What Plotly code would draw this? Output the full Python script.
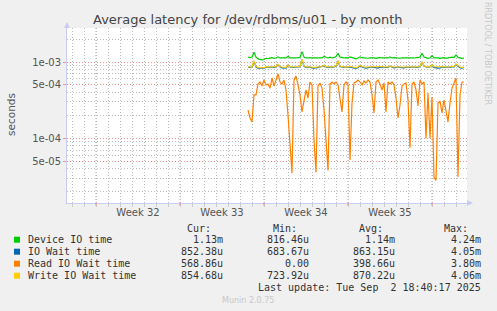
import datetime as dt
import plotly.graph_objects as go

# ---------------- data (seconds) ----------------
start_time = dt.datetime(2025, 8, 15, 16, 0)
step_hours = 4

device_io = [1.15, 1.15, 1.16, 1.34, 1.16, 1.10, 1.08, 1.07, 1.08, 1.12, 1.11, 1.13, 1.14, 1.12, 1.13, 1.17,
             1.13, 1.13, 1.12, 1.13, 1.19, 1.13, 1.13, 1.12, 1.13, 1.14, 1.15, 1.37, 1.16, 1.13, 1.13, 1.14,
             1.13, 1.12, 1.13, 1.14, 1.13, 1.13, 1.18, 1.14, 1.13, 1.16, 1.13, 1.14, 1.18, 1.30, 1.16, 1.15,
             1.13, 1.14, 1.13, 1.17, 1.15, 1.12, 1.10, 1.13, 1.17, 1.14, 1.13, 1.13, 1.12, 1.13, 1.14, 1.13,
             1.12, 1.14, 1.15, 1.13, 1.13, 1.12, 1.13, 1.17, 1.13, 1.14, 1.13, 1.13, 1.12, 1.13, 1.14, 1.13,
             1.13, 1.14, 1.13, 1.13, 1.14, 1.13, 1.16, 1.30, 1.16, 1.14, 1.12, 1.13, 1.21, 1.13, 1.14, 1.13,
             1.12, 1.13, 1.14, 1.12, 1.13, 1.14, 1.16, 1.14, 1.24, 1.15, 1.13, 1.12, 1.13]  # x 1e-3

io_wait = [8.5, 8.5, 8.6, 10.2, 8.6, 8.3, 8.25, 8.25, 8.3, 8.5, 8.6, 8.5, 8.6, 8.5, 8.6, 9.2,
           8.6, 8.4, 8.3, 8.3, 9.1, 8.6, 8.5, 8.5, 8.5, 8.6, 8.7, 10.7, 8.8, 8.5, 8.5, 8.6,
           8.4, 8.3, 8.4, 8.5, 8.5, 8.6, 8.9, 8.6, 8.5, 8.6, 8.5, 8.6, 8.8, 10.3, 8.7, 8.6,
           8.5, 8.6, 8.5, 8.6, 8.4, 8.3, 8.3, 8.4, 8.9, 8.6, 8.4, 8.3, 8.4, 8.6, 8.6, 8.5,
           8.3, 8.3, 8.6, 8.5, 8.5, 8.5, 8.5, 8.8, 8.5, 8.4, 8.5, 8.6, 8.5, 8.5, 8.4, 8.6,
           8.5, 8.5, 8.6, 8.5, 8.5, 8.5, 8.7, 10.0, 8.8, 8.6, 8.5, 8.6, 9.1, 8.5, 8.4, 8.3,
           8.4, 8.6, 8.5, 8.6, 8.6, 8.5, 8.7, 8.6, 9.3, 8.8, 8.4, 8.3, 8.5]  # x 1e-4

read_io_wait = [2.35, 1.85, 1.64, 3.70, 3.70, 5.15, 5.47, 4.85, 5.81, 5.00, 5.15, 4.56, 6.17, 4.85, 5.81, 7.00,
                5.47, 5.15, 5.81, 4.30, 2.02, 0.95, 0.35, 5.81, 6.55, 5.00, 3.70, 2.22, 3.17, 4.30, 3.37, 5.47,
                5.00, 0.95, 0.36, 4.85, 5.31, 4.56, 2.35, 0.95, 0.38, 5.15, 5.47, 5.15, 5.47, 5.00, 3.17, 2.22,
                5.00, 5.47, 5.15, 0.52, 2.90, 5.31, 5.47, 5.81, 5.47, 5.00, 5.63, 5.31, 5.81, 5.47, 3.70, 2.15,
                5.47, 5.81, 5.15, 4.30, 5.31, 2.22, 5.47, 5.15, 5.47, 5.00, 3.37, 1.85, 2.73, 4.85, 5.15, 5.31,
                3.17, 0.75, 5.15, 5.47, 4.30, 2.65, 5.81, 5.15, 5.47, 1.00, 3.93, 1.00, 3.48, 0.31, 0.28, 2.90,
                3.08, 2.15, 3.17, 2.35, 1.64, 2.90, 4.56, 5.31, 6.17, 0.31, 3.70, 5.47, 5.47]  # x 1e-4

write_io_wait = [8.6, 8.6, 8.7, 10.4, 8.8, 8.5, 8.4, 8.4, 8.5, 8.6, 8.7, 8.6, 8.7, 8.6, 8.7, 9.3,
                 8.7, 8.6, 8.6, 8.5, 9.2, 8.7, 8.6, 8.6, 8.6, 8.7, 8.8, 10.8, 8.9, 8.6, 8.6, 8.7,
                 8.6, 8.5, 8.6, 8.6, 8.6, 8.7, 9.0, 8.7, 8.6, 8.7, 8.6, 8.7, 8.9, 10.4, 8.8, 8.7,
                 8.6, 8.7, 8.6, 8.8, 8.6, 8.5, 8.5, 8.6, 9.0, 8.7, 8.6, 8.6, 8.6, 8.7, 8.7, 8.6,
                 8.6, 8.7, 8.8, 8.6, 8.6, 8.6, 8.6, 8.9, 8.6, 8.6, 8.6, 8.7, 8.6, 8.6, 8.6, 8.7,
                 8.6, 8.6, 8.7, 8.6, 8.6, 8.6, 8.8, 10.1, 8.9, 8.7, 8.6, 8.7, 9.2, 8.7, 8.7, 8.6,
                 8.6, 8.7, 8.6, 8.7, 8.7, 8.6, 8.8, 8.7, 9.4, 8.9, 8.6, 8.5, 8.55]  # x 1e-4

series_names = ["Device IO time", "IO Wait time", "Read IO Wait time", "Write IO Wait time"]
series_colors = ["#00CC00", "#0066B3", "#FF8000", "#FFCC00"]
series_scale = [1e-3, 1e-4, 1e-4, 1e-4]
series_values = [device_io, io_wait, read_io_wait, write_io_wait]

cur_vals = ["1.13m", "852.38u", "568.86u", "854.68u"]
min_vals = ["816.46u", "683.67u", "0.00", "723.92u"]
avg_vals = ["1.14m", "863.15u", "398.66u", "870.22u"]
max_vals = ["4.24m", "4.05m", "3.80m", "4.06m"]

week_label_times = ["2025-08-06 12:00", "2025-08-13 12:00", "2025-08-20 12:00", "2025-08-27 12:00"]
week_labels = ["Week 32", "Week 33", "Week 34", "Week 35"]
week_start_times = ["2025-08-03", "2025-08-10", "2025-08-17", "2025-08-24", "2025-08-31"]
x_range = ["2025-07-31 14:00", "2025-09-02 22:00"]

y_tick_vals = [5e-5, 1e-4, 5e-4, 1e-3]
y_tick_text = ["5e-05", "1e-04", "5e-04", "1e-03"]
y_minor_vals = [2e-5, 3e-5, 4e-5, 6e-5, 7e-5, 8e-5, 9e-5, 2e-4, 3e-4, 4e-4, 6e-4, 7e-4, 8e-4, 9e-4, 2e-3]
y_range_log = [-4.848, -2.554]

title_text = "Average latency for /dev/rdbms/u01 - by month"
last_update = "Last update: Tue Sep\u00a0\u00a02 18:40:17 2025"

# ---------------- geometry ----------------
W, H = 497, 311
ML, MR, MT, MB = 67, 30, 28, 108
PW, PH = W - ML - MR, H - MT - MB


def px(x):
    return (x - ML) / PW


def py(y):
    return (H - MB - y) / PH


fig = go.Figure()
for name, color, scale, vals in zip(series_names, series_colors, series_scale, series_values):
    xs = [start_time + dt.timedelta(hours=step_hours * i) for i in range(len(vals))]
    fig.add_trace(go.Scatter(x=xs, y=[v * scale for v in vals], mode="lines", name=name,
                             line=dict(color=color, width=1.2), showlegend=False,
                             hoverinfo="skip"))

day_ticks = [dt.datetime(2025, 7, 31) + dt.timedelta(days=d) for d in range(1, 34)]

grey_grid = "#BDBDBD"
red_grid = "#EE9090"
font_main = "DejaVu Sans"
mono = "DejaVu Sans Mono"

fig.update_layout(
    width=W, height=H,
    margin=dict(l=ML, r=MR, t=MT, b=MB, pad=0),
    paper_bgcolor="#F0F0F0", plot_bgcolor="#FFFFFF",
    showlegend=False,
    xaxis=dict(
        type="date", range=x_range, tickmode="array", tickvals=week_label_times, ticktext=week_labels,
        showgrid=False, ticks="", zeroline=False,
        tickfont=dict(family=font_main, size=10, color="#555555"),
        showline=True, linecolor="#C8CCF0", linewidth=1,
        minor=dict(tickmode="array", tickvals=day_ticks, showgrid=True, gridcolor=grey_grid,
                   griddash="1px,2px", gridwidth=1, ticks="outside", ticklen=3, tickcolor="#CCCCCC"),
    ),
    yaxis=dict(
        type="log", range=y_range_log, tickmode="array", tickvals=y_tick_vals, ticktext=y_tick_text,
        showgrid=True, gridcolor=red_grid, griddash="1px,2px", gridwidth=1,
        ticks="outside", ticklen=3, tickcolor=red_grid, zeroline=False,
        tickfont=dict(family=font_main, size=10, color="#555555"),
        showline=True, linecolor="#C8CCF0", linewidth=1,
        minor=dict(tickmode="array", tickvals=y_minor_vals, showgrid=True, gridcolor=grey_grid,
                   griddash="1px,2px", gridwidth=1),
    ),
)

# weekly (major) vertical grid lines
for t in week_start_times:
    fig.add_shape(type="line", xref="x", yref="paper", x0=t, x1=t, y0=0, y1=1,
                  line=dict(color=red_grid, width=1, dash="1px,2px"), layer="below")
    fig.add_shape(type="line", xref="x", yref="paper", x0=t, x1=t, y0=0, y1=-3 / PH,
                  line=dict(color=red_grid, width=1))

ann = []
ann.append(dict(text=title_text, x=px(248), y=py(19.5), font=dict(family=font_main, size=13, color="#444444"),
                xanchor="center", yanchor="middle"))
ann.append(dict(text="seconds", x=px(11), y=py(114), textangle=-90,
                font=dict(family=font_main, size=10.5, color="#555555"), xanchor="center", yanchor="middle"))
ann.append(dict(text="RRDTOOL / TOBI OETIKER", x=px(488), y=py(53), textangle=90,
                font=dict(family=font_main, size=8, color="#C8C8C8"), xanchor="center", yanchor="middle"))

legend_color = "#333333"
for hx, ht in zip([213, 299, 385, 470], ["Cur:", "Min:", "Avg:", "Max:"]):
    ann.append(dict(text=ht, x=px(hx), y=py(228.5), xanchor="right", yanchor="middle",
                    font=dict(family=mono, size=10, color=legend_color)))

row_y = [239.7, 251.7, 263.7, 275.7]
for i, name in enumerate(series_names):
    yy = row_y[i]
    ann.append(dict(text=name, x=px(26), y=py(yy), xanchor="left", yanchor="middle",
                    font=dict(family=mono, size=10, color=legend_color)))
    for cx, vals in zip([225, 311, 397, 483], [cur_vals, min_vals, avg_vals, max_vals]):
        ann.append(dict(text=vals[i], x=px(cx), y=py(yy), xanchor="right", yanchor="middle",
                        font=dict(family=mono, size=10, color=legend_color)))
    fig.add_shape(type="rect", xref="paper", yref="paper", x0=px(14), x1=px(20),
                  y0=py(yy + 3), y1=py(yy - 3), fillcolor=series_colors[i], line=dict(width=0))

ann.append(dict(text=last_update, x=px(483), y=py(287.7), xanchor="right", yanchor="middle",
                font=dict(family=mono, size=10, color=legend_color)))
ann.append(dict(text="Munin 2.0.75", x=px(248), y=py(300.5), xanchor="center", yanchor="middle",
                font=dict(family=font_main, size=8, color="#C8C8C8")))

for a in ann:
    a.update(xref="paper", yref="paper", showarrow=False)
fig.update_layout(annotations=ann)

# axis arrows
fig.add_annotation(x=px(67), y=py(22), ax=0, ay=6, xref="paper", yref="paper",
                   axref="pixel", ayref="pixel", showarrow=True, arrowhead=2, arrowsize=1.2,
                   arrowwidth=1, arrowcolor="#C8CCF0", text="")
fig.add_annotation(x=px(473), y=py(203), ax=-6, ay=0, xref="paper", yref="paper",
                   axref="pixel", ayref="pixel", showarrow=True, arrowhead=2, arrowsize=1.2,
                   arrowwidth=1, arrowcolor="#C8CCF0", text="")

fig.write_html("out.html")
